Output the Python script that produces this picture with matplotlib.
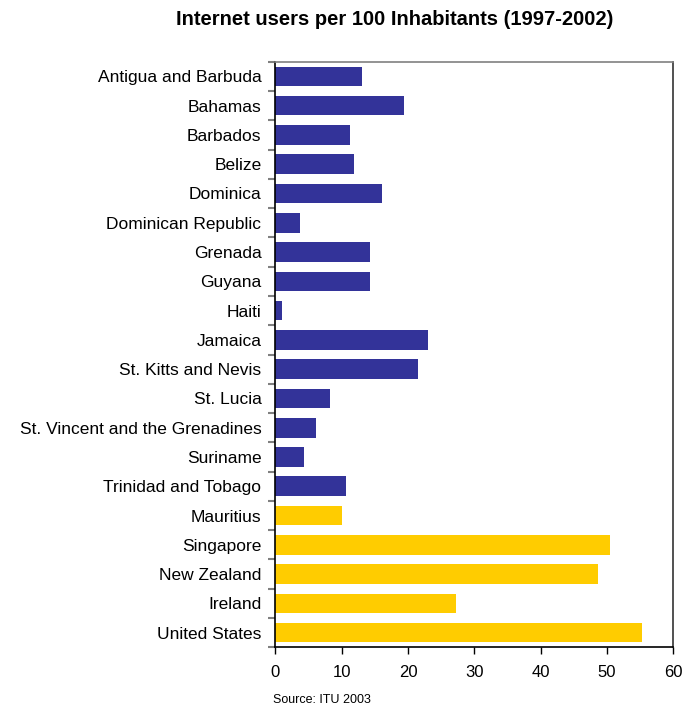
import matplotlib.pyplot as plt
import numpy as np

plt.rcParams['font.family'] = ['Liberation Sans', 'DejaVu Sans']

# Internet users per 100 inhabitants
caribbean = ['Antigua and Barbuda', 'Bahamas', 'Barbados', 'Belize', 'Dominica',
             'Dominican Republic', 'Grenada', 'Guyana', 'Haiti', 'Jamaica',
             'St. Kitts and Nevis', 'St. Lucia', 'St. Vincent and the Grenadines',
             'Suriname', 'Trinidad and Tobago']
caribbean_vals = [13.0, 19.4, 11.3, 11.9, 16.1, 3.7, 14.3, 14.3, 1.0, 23.0,
                  21.5, 8.2, 6.1, 4.3, 10.7]
others = ['Mauritius', 'Singapore', 'New Zealand', 'Ireland', 'United States']
others_vals = [10.1, 50.5, 48.7, 27.2, 55.3]

labels = caribbean + others
values = caribbean_vals + others_vals
colors = ['#333399'] * len(caribbean) + ['#FFCC00'] * len(others)

fig = plt.figure(figsize=(6.84, 7.06), dpi=100)
ax = fig.add_axes([0.4025, 0.0831, 0.5819, 0.8295])

y = np.arange(len(labels))
ax.barh(y, values, height=0.67, color=colors)
ax.set_ylim(len(labels) - 0.5, -0.5)
ax.set_xlim(0, 60)
ax.set_xticks(np.arange(0, 61, 10))

# category labels between boundary ticks
ax.set_yticks(y)
ax.set_yticklabels(labels, fontsize=12.5)
ax.tick_params(axis='y', length=0, pad=10)
ax.set_yticks(np.arange(-0.5, len(labels)), minor=True)
ax.tick_params(axis='y', which='minor', length=5, width=1.5, color='#808080')
ax.tick_params(axis='x', length=5, width=1, color='black', labelsize=12, pad=8)

ax.spines['left'].set_color('black')
ax.spines['bottom'].set_color('black')
ax.spines['top'].set_color('#808080')
ax.spines['right'].set_color('#333333')
for s in ax.spines.values():
    s.set_linewidth(1.2)

fig.text(0.577, 0.972, 'Internet users per 100 Inhabitants (1997-2002)',
         ha='center', va='center', fontsize=14.5, fontweight='bold')
fig.text(0.471, 0.008, 'Source: ITU 2003', ha='center', va='center', fontsize=9)

fig.savefig('out.png', dpi=100)
